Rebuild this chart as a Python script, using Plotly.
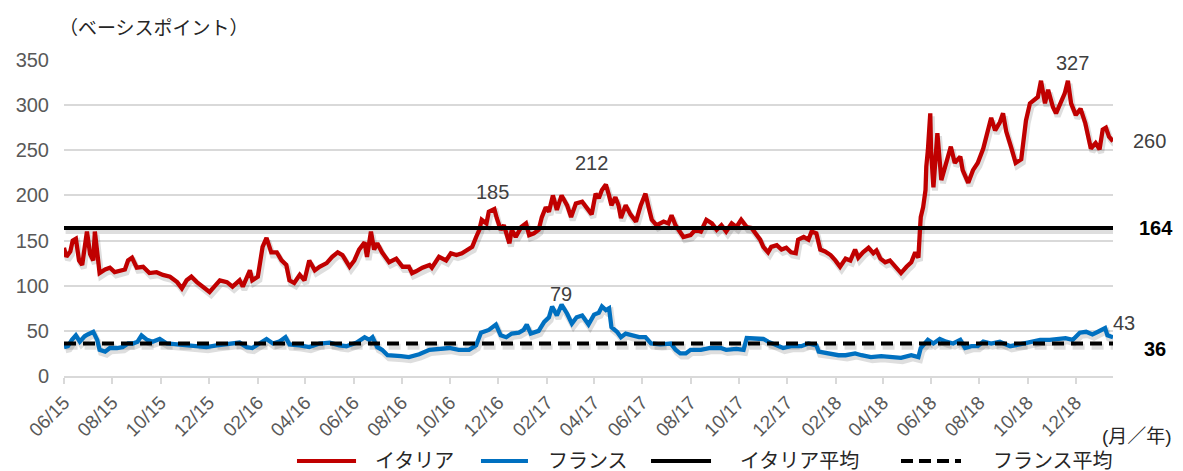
import pandas as pd
import plotly.graph_objects as go

# ---------------- data ----------------
start_date = "2015-06-01"

# day offsets from start_date and spread values (basis points)
italy_days = [
    0, 3, 8, 11, 15, 19, 23, 26, 29, 33,
    37, 39, 42, 45, 52, 58, 64, 71, 77, 81,
    86, 92, 100, 108, 117, 125, 134, 143, 149, 155,
    161, 168, 175, 184, 190, 197, 206, 213, 222, 226,
    235, 238, 245, 251, 256, 262, 269, 275, 281, 285,
    291, 298, 304, 310, 317, 323, 332, 339, 346, 352,
    361, 367, 373, 380, 383, 388, 392, 396, 402, 411,
    420, 428, 436, 440, 445, 453, 462, 465, 474, 483,
    489, 496, 503, 510, 516, 521, 525, 528, 534, 537,
    544, 547, 552, 556, 563, 566, 571, 578, 584, 588,
    594, 600, 604, 609, 613, 618, 623, 629, 636, 641,
    647, 655, 663, 667, 672, 676, 680, 685, 689, 692,
    697, 701, 704, 710, 716, 723, 729, 735, 739, 743,
    749, 758, 764, 768, 773, 779, 783, 792, 798, 805,
    812, 819, 825, 831, 837, 844, 850, 856, 863, 869,
    874, 880, 884, 890, 894, 901, 907, 913, 919, 925,
    928, 935, 941, 945, 951, 956, 962, 969, 975, 981,
    988, 994, 1000, 1004, 1010, 1017, 1023, 1027, 1032, 1038,
    1044, 1048, 1054, 1058, 1065, 1071, 1076, 1080, 1082, 1083,
    1086, 1089, 1090, 1092, 1095, 1096, 1099, 1104, 1109, 1115,
    1121, 1126, 1133, 1136, 1143, 1149, 1155, 1162, 1168, 1172,
    1177, 1183, 1187, 1191, 1197, 1203, 1210, 1216, 1221, 1225,
    1231, 1235, 1240, 1244, 1250, 1254, 1259, 1265, 1269, 1273,
    1279, 1285, 1291, 1294, 1298, 1304, 1309, 1313, 1317, 1321,
    1326,
]
italy_spread = [
    142, 132, 138, 150, 152, 128, 123, 140, 160, 135,
    128, 160, 132, 114, 118, 120, 115, 117, 118, 128,
    131, 120, 121, 114, 115, 112, 110, 104, 97, 106,
    110, 104, 99, 93, 99, 106, 104, 99, 106, 99,
    117, 106, 110, 143, 153, 137, 137, 128, 123, 106,
    103, 112, 106, 128, 117, 121, 125, 132, 137, 134,
    121, 128, 140, 148, 132, 160, 140, 147, 137, 126,
    130, 121, 121, 114, 116, 120, 123, 120, 132, 128,
    136, 134, 136, 140, 143, 154, 162, 173, 169, 182,
    185, 175, 162, 167, 147, 162, 154, 165, 169, 156,
    158, 162, 176, 187, 182, 200, 184, 200, 189, 176,
    191, 193, 184, 179, 202, 197, 206, 212, 200, 189,
    198, 189, 175, 189, 179, 171, 189, 202, 187, 173,
    167, 171, 169, 178, 167, 158, 154, 156, 162, 160,
    173, 169, 162, 167, 160, 169, 165, 173, 165, 164,
    158, 151, 143, 137, 143, 145, 140, 142, 137, 136,
    151, 154, 151, 160, 158, 140, 138, 134, 128, 121,
    130, 128, 140, 131, 137, 142, 136, 139, 130, 126,
    128, 124, 117, 114, 121, 126, 137, 131, 162, 176,
    187, 206, 232, 250, 291, 250, 209, 269, 217, 236,
    254, 236, 243, 228, 214, 228, 236, 252, 272, 286,
    272, 281, 291, 271, 254, 236, 240, 283, 302, 305,
    309, 327, 302, 317, 298, 291, 302, 313, 327, 302,
    289, 296, 280, 269, 252, 258, 251, 273, 275, 265,
    260,
]

france_days = [
    0, 5, 10, 15, 20, 26, 30, 37, 42, 45,
    52, 58, 67, 74, 81, 87, 93, 98, 105, 112,
    121, 130, 143, 155, 168, 180, 193, 206, 222, 231,
    238, 247, 256, 264, 272, 280, 285, 298, 310, 323,
    336, 348, 357, 370, 380, 386, 390, 396, 402, 409,
    417, 426, 436, 449, 462, 474, 487, 499, 512, 521,
    527, 537, 546, 552, 559, 566, 575, 581, 585, 590,
    600, 607, 613, 617, 623, 629, 636, 642, 648, 655,
    663, 670, 676, 680, 685, 689, 692, 699, 704, 710,
    718, 727, 735, 742, 754, 767, 773, 779, 786, 792,
    805, 817, 830, 837, 850, 859, 863, 872, 884, 890,
    903, 909, 919, 932, 941, 951, 954, 966, 979, 988,
    1000, 1008, 1020, 1033, 1046, 1058, 1071, 1080, 1083, 1092,
    1099, 1107, 1115, 1124, 1133, 1139, 1147, 1155, 1162, 1172,
    1183, 1196, 1208, 1221, 1234, 1246, 1259, 1266, 1275, 1284,
    1292, 1300, 1307, 1316, 1319, 1326,
]
france_spread = [
    32, 33, 40, 45, 38, 44, 46, 49, 40, 29,
    27, 31, 31, 32, 36, 36, 38, 45, 40, 38,
    41, 36, 35, 34, 32, 32, 34, 35, 37, 32,
    31, 36, 41, 36, 38, 43, 35, 34, 32, 36,
    37, 34, 33, 37, 43, 40, 43, 32, 29, 23,
    23, 22, 21, 24, 29, 30, 31, 29, 29, 34,
    48, 51, 57, 45, 43, 47, 48, 51, 57, 47,
    50, 60, 65, 77, 67, 79, 69, 58, 65, 67,
    57, 68, 70, 77, 73, 75, 54, 49, 43, 47,
    45, 43, 43, 36, 35, 36, 29, 25, 25, 29,
    29, 31, 31, 29, 30, 29, 42, 42, 41, 38,
    34, 31, 33, 33, 36, 34, 27, 25, 23, 23,
    25, 23, 21, 22, 21, 20, 23, 21, 31, 40,
    36, 41, 38, 36, 40, 31, 33, 33, 38, 36,
    38, 33, 35, 38, 40, 40, 41, 42, 40, 48,
    49, 46, 49, 53, 45, 43,
]

italy_avg = 164
france_avg = 36

# annotated values
italy_peak_labels = [185, 212]
italy_max = 327
france_max = 79

tick_labels = ["06/15", "08/15", "10/15", "12/15", "02/16", "04/16", "06/16",
               "08/16", "10/16", "12/16", "02/17", "04/17", "06/17", "08/17",
               "10/17", "12/17", "02/18", "04/18", "06/18", "08/18", "10/18",
               "12/18"]

series_names = ["イタリア", "フランス", "イタリア平均", "フランス平均"]

# ---------------- build ----------------
assert len(italy_days) == len(italy_spread)
assert len(france_days) == len(france_spread)

start = pd.Timestamp(start_date)
italy_x = start + pd.to_timedelta(italy_days, unit="D")
france_x = start + pd.to_timedelta(france_days, unit="D")
end = max(italy_x.max(), france_x.max())
tick_vals = pd.date_range(start, periods=len(tick_labels), freq="2MS")

RED = "#C00000"
BLUE = "#0070C0"
GRID = "#D9D9D9"
TXT = "#595959"
FONT = "Arial, 'Liberation Sans', 'Noto Sans CJK JP', sans-serif"

shadow_dx = pd.Timedelta(days=2)
shadow_dy = 3.5
SHADOW = "rgba(0,0,0,0.13)"

fig = go.Figure()

# soft drop shadows (derived from the same data)
for xs, ys in [(italy_x, italy_spread), (france_x, france_spread),
               ([start, end], [italy_avg, italy_avg])]:
    fig.add_trace(go.Scatter(
        x=[v + shadow_dx for v in xs], y=[v - shadow_dy for v in ys],
        mode="lines", line=dict(color=SHADOW, width=6),
        hoverinfo="skip", showlegend=False))
fig.add_trace(go.Scatter(
    x=[start + shadow_dx, end + shadow_dx],
    y=[france_avg - shadow_dy, france_avg - shadow_dy],
    mode="lines", line=dict(color=SHADOW, width=6, dash="12px,7px"),
    hoverinfo="skip", showlegend=False))

fig.add_trace(go.Scatter(x=italy_x, y=italy_spread, mode="lines",
                         name=series_names[0],
                         line=dict(color=RED, width=4.3), showlegend=False))
fig.add_trace(go.Scatter(x=france_x, y=france_spread, mode="lines",
                         name=series_names[1],
                         line=dict(color=BLUE, width=4.3), showlegend=False))
fig.add_trace(go.Scatter(x=[start, end], y=[italy_avg, italy_avg], mode="lines",
                         name=series_names[2],
                         line=dict(color="#000000", width=4), showlegend=False))
fig.add_trace(go.Scatter(x=[start, end], y=[france_avg, france_avg], mode="lines",
                         name=series_names[3],
                         line=dict(color="#000000", width=4, dash="12px,7px"),
                         showlegend=False))

annotations = []


def label(x, y, text, xshift=0, yshift=0, bold=False, color="#404040",
          xanchor="center"):
    annotations.append(dict(
        x=x, y=y, xref="x", yref="y", text=f"<b>{text}</b>" if bold else text,
        showarrow=False, xshift=xshift, yshift=yshift, xanchor=xanchor,
        yanchor="middle", font=dict(size=20, color=color, family=FONT)))


# peak labels
i185 = italy_spread.index(italy_peak_labels[0])
label(italy_x[i185], italy_spread[i185], str(italy_spread[i185]),
      xshift=-2, yshift=17)
i212 = italy_spread.index(italy_peak_labels[1])
label(italy_x[i212], italy_spread[i212], str(italy_spread[i212]),
      xshift=-14, yshift=22)
i327 = len(italy_spread) - 1 - italy_spread[::-1].index(italy_max)
label(italy_x[i327], italy_spread[i327], str(italy_spread[i327]),
      xshift=5, yshift=18)
i79 = france_spread.index(france_max)
label(france_x[i79], france_spread[i79], str(france_spread[i79]),
      xshift=-1, yshift=11)
# end-of-series labels
label(end, italy_spread[-1], str(italy_spread[-1]), xshift=18, xanchor="left")
label(end, france_spread[-1], str(france_spread[-1]), xshift=-2, yshift=14,
      xanchor="left")
label(end, italy_avg, str(italy_avg), xshift=24, bold=True, color="#000000",
      xanchor="left")
label(end, france_avg, str(france_avg), xshift=29, yshift=-5, bold=True,
      color="#000000", xanchor="left")

# unit labels
annotations.append(dict(x=-0.0067, y=1.101, xref="paper", yref="paper",
                        text="（ベーシスポイント）", showarrow=False,
                        xanchor="left", yanchor="middle",
                        font=dict(size=19, color="#262626", family=FONT)))
annotations.append(dict(x=0.9876, y=-0.193, xref="paper", yref="paper",
                        text="(月／年)", showarrow=False,
                        xanchor="left", yanchor="middle",
                        font=dict(size=19, color="#262626", family=FONT)))

# custom legend (long line samples as in the original)
legend_y = -0.269
legend_items = [
    (0.2221, 0.2784, 0.2945, RED, "solid"),
    (0.3975, 0.4423, 0.4594, BLUE, "solid"),
    (0.5596, 0.6168, 0.6424, "#000000", "solid"),
    (0.7979, 0.8551, 0.8836, "#000000", "dash"),
]
shapes = []
for (x0, x1, xt, col, dash), name in zip(legend_items, series_names):
    shapes.append(dict(type="line", xref="paper", yref="paper", x0=x0, x1=x1,
                       y0=legend_y, y1=legend_y,
                       line=dict(color=col, width=4,
                                 dash="12px,6px" if dash == "dash" else "solid")))
    annotations.append(dict(x=xt, y=legend_y, xref="paper", yref="paper",
                            text=name, showarrow=False, xanchor="left",
                            yanchor="middle",
                            font=dict(size=20, color="#262626", family=FONT)))

fig.update_layout(
    width=1183, height=471,
    margin=dict(l=64, r=70, t=60, b=95),
    paper_bgcolor="white", plot_bgcolor="white",
    font=dict(family=FONT, size=20, color=TXT),
    showlegend=False,
    annotations=annotations,
    shapes=shapes,
    xaxis=dict(type="date", range=[start, end], tickvals=tick_vals,
               ticktext=tick_labels, tickangle=-45,
               tickfont=dict(size=19, color=TXT, family=FONT),
               showgrid=False, zeroline=False, showline=True,
               linecolor=GRID, linewidth=2, ticks="outside", ticklen=6,
               tickcolor=GRID, tickwidth=2),
    yaxis=dict(range=[0, 350], dtick=50, tick0=0,
               tickfont=dict(size=20, color=TXT, family=FONT),
               showgrid=True, gridcolor=GRID, gridwidth=2, zeroline=False,
               showline=False, ticks="", ticklabelstandoff=14),
)

fig.write_html("out.html",
               config={"displayModeBar": False},
               post_script="document.body.style.margin='0px';"
                           "document.body.style.overflow='hidden';")
